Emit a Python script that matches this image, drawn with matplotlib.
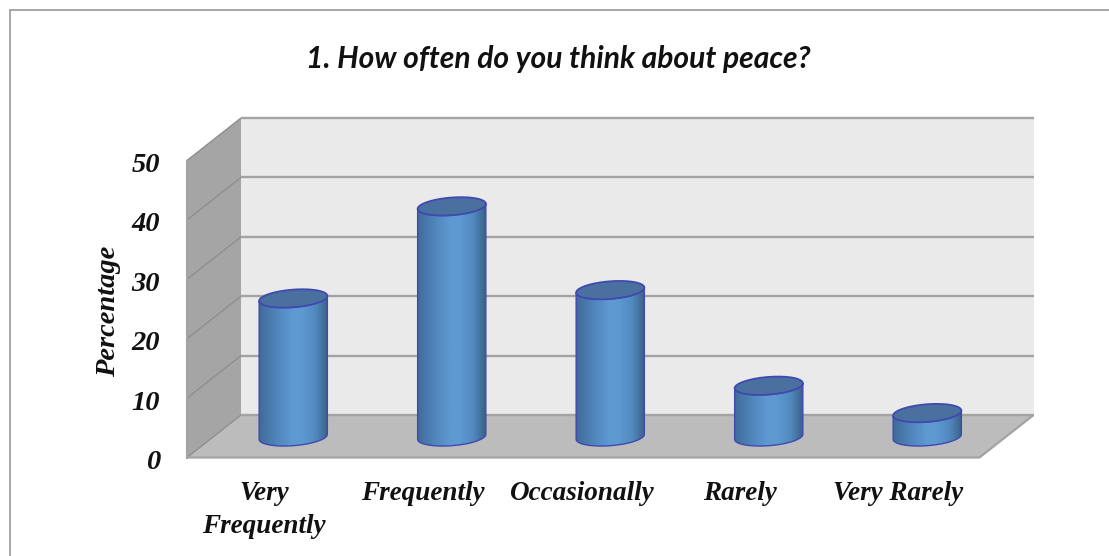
import numpy as np
import matplotlib
matplotlib.use("Agg")
import matplotlib.pyplot as plt
from matplotlib.lines import Line2D
from matplotlib.patches import Polygon

W, H = 1109, 556

categories = ["Very\nFrequently", "Frequently", "Occasionally", "Rarely", "Very Rarely"]
percentages = [23.3, 38.8, 24.7, 8.6, 4.0]
y_ticks = [0, 10, 20, 30, 40, 50]

title = "1. How often do you think about peace?"
y_label = "Percentage"

# front plane of the 3D box, pixels
FRONT_L, FRONT_R = 187, 979.5
FRONT_BOTTOM, FRONT_TOP = 457.5, 160.5
DEPTH_X, DEPTH_Y = 54, 42.5

WALL = "#eaeaea"
SIDE = "#a5a5a5"
FLOOR = "#bcbcbc"
GRID = "#a3a3a3"
SIDE_GRID = "#8e8e8e"
EDGE = "#4049b0"
TOP_CAP = "#4a70a0"
INK = "#111111"

fig = plt.figure(figsize=(W / 100, H / 100), dpi=100)
ax = fig.add_axes([FRONT_L / W, 1 - FRONT_BOTTOM / H,
                   (FRONT_R - FRONT_L) / W, (FRONT_BOTTOM - FRONT_TOP) / H])
ax.axis("off")

# pixel to data sizes
n = len(categories)
px_x = n / (FRONT_R - FRONT_L)
px_y = 50 / (FRONT_BOTTOM - FRONT_TOP)
dx = DEPTH_X * px_x
dy = DEPTH_Y * px_y


def add_poly(pts, **kw):
    p = Polygon(pts, closed=True, clip_on=False, **kw)
    ax.add_patch(p)
    return p


# box walls
add_poly([(dx, dy), (n + dx, dy), (n + dx, 50 + dy), (dx, 50 + dy)], fc=WALL, ec="none", zorder=1)
add_poly([(0, 0), (dx, dy), (dx, 50 + dy), (0, 50)], fc=SIDE, ec="none", zorder=1)
add_poly([(0, 0), (n, 0), (n + dx, dy), (dx, dy)], fc=FLOOR, ec="none", zorder=1)

for t in y_ticks:
    ax.plot([0, dx], [t, t + dy], color=SIDE_GRID, lw=1.0, clip_on=False, zorder=2,
            solid_capstyle="butt")
    ax.plot([dx, n + dx], [t + dy, t + dy], color=GRID, lw=1.7, clip_on=False, zorder=2,
            solid_capstyle="butt")
ax.plot([0, 0], [0, 50], color=GRID, lw=1.5, clip_on=False, zorder=2)
ax.plot([0, n, n + dx], [0, 0, dy], color=GRID, lw=1.6, clip_on=False, zorder=2,
        solid_capstyle="butt")


def ellipse(cx, cy, start=0.0, stop=2 * np.pi, num=80):
    # tilted ellipse for the cylinder ends
    a, b, tilt = 34.2, 8.8, np.radians(4.5)
    t = np.linspace(start, stop, num)
    x = a * np.cos(t) * np.cos(tilt) - b * np.sin(t) * np.sin(tilt)
    y = a * np.cos(t) * np.sin(tilt) + b * np.sin(t) * np.cos(tilt)
    return np.column_stack([cx + x * px_x, cy + y * px_y])


# horizontal shading across a cylinder
shade = np.array([[0.25, 0.42, 0.60], [0.31, 0.52, 0.73], [0.37, 0.60, 0.82],
                  [0.37, 0.60, 0.82], [0.32, 0.54, 0.75], [0.23, 0.38, 0.53]])
stops = np.array([0, 0.25, 0.48, 0.62, 0.82, 1])
u = np.linspace(0, 1, 128)
ramp = np.column_stack([np.interp(u, stops, shade[:, c]) for c in range(3)])[None, :, :]

base_y = dy / 2 - 0.1
half_w = 34.3 * px_x
for i, val in enumerate(percentages):
    cx = i + 0.5 + dx / 2
    top = base_y + val
    lower = ellipse(cx, base_y, np.pi, 2 * np.pi)
    upper = ellipse(cx, top, 2 * np.pi, np.pi)
    body = add_poly(np.vstack([lower, upper]), fc="none", ec=EDGE, lw=1.0, zorder=4)
    im = ax.imshow(ramp, extent=[cx - half_w, cx + half_w, base_y - 3, top + 3],
                   aspect="auto", zorder=3, interpolation="bilinear")
    im.set_clip_path(body)
    add_poly(ellipse(cx, top), fc=TOP_CAP, ec=EDGE, lw=1.3, zorder=5)

ax.set_xlim(0, n)
ax.set_ylim(0, 50)

serif = "Liberation Serif"
for t in y_ticks:
    ax.text(-27 * px_x, t - 5 * px_y, str(t), ha="right", va="center", family=serif,
            weight="bold", style="italic", fontsize=20.5, color=INK, clip_on=False)
for i, lab in enumerate(categories):
    ax.text(i + 0.5 - 2 * px_x, -23 * px_y, lab, ha="center", va="top", family=serif,
            weight="bold", style="italic", fontsize=19.5, color=INK,
            linespacing=1.45, clip_on=False)

fig.text(109 / W, 1 - 311 / H, y_label, rotation=90, ha="center", va="center", family=serif,
         weight="bold", style="italic", fontsize=20.5, color=INK)
fig.text(558 / W, 1 - 59 / H, title, ha="center", va="center", family="Lato",
         weight="bold", style="italic", fontsize=21.6, color=INK)

# chart area border, top and left only
fig.add_artist(Line2D([10 / W, 10 / W, 1], [0, 1 - 10 / H, 1 - 10 / H],
                      transform=fig.transFigure, color="#a0a0a0", lw=1.3,
                      solid_joinstyle="miter"))

fig.savefig("out.png", dpi=100)
